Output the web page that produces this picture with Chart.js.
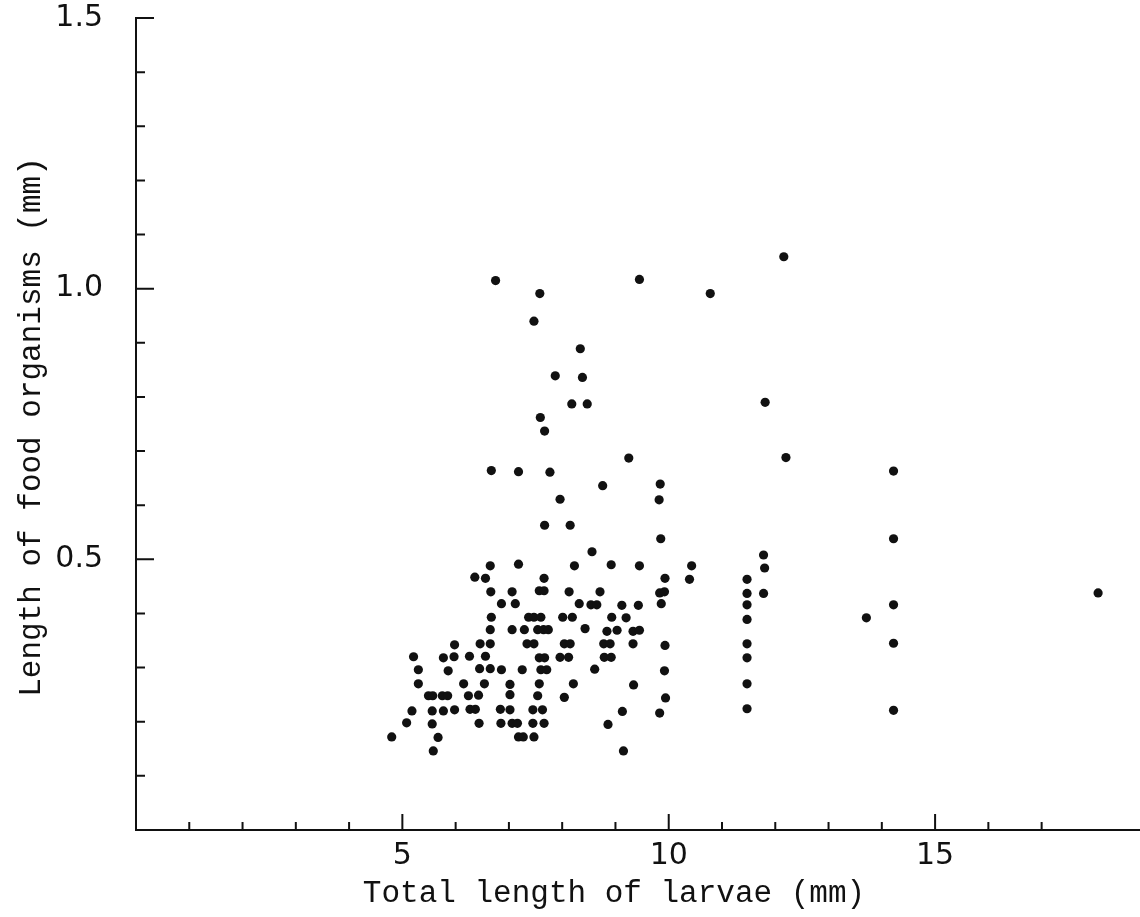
<!DOCTYPE html>
<html>
<head>
<meta charset="utf-8">
<script src="https://cdn.jsdelivr.net/npm/chart.js@4.4.1/dist/chart.umd.min.js"></script>
<style>
  html, body { margin: 0; padding: 0; background: #fff; }
  canvas { display: block; }
</style>
</head>
<body>
<canvas id="scatter" width="1140" height="917"></canvas>
<script>
// Total length of larvae (mm) for each food item
const larvaeLength = [
  // upper scatter
  6.75, 9.45, 10.78, 7.58, 7.47, 8.34, 7.87, 8.38, 8.18, 8.47, 7.59, 7.67,
  9.25, 6.67, 7.18, 7.77, 8.76, 9.84, 9.82, 7.96, 7.67, 8.15, 9.85, 8.56,
  // right-hand columns
  12.16, 11.81, 12.20, 14.22, 14.22, 11.78, 11.80, 10.43, 10.39, 11.47, 11.47, 11.78,
  11.47, 14.22, 11.47, 13.71, 18.06, 11.47, 14.22, 11.47, 11.47, 11.47, 14.22,
  // dense cluster, left part
  6.65, 7.18, 8.23,
  6.36, 6.56, 7.66,
  6.66, 7.06, 7.57, 7.66, 8.13,
  6.86, 7.12, 8.32,
  6.67, 7.37, 7.47, 7.60, 8.01, 8.19,
  6.65, 7.06, 7.29, 7.54, 7.65, 7.74,
  6.46, 6.65, 7.34, 7.47, 8.04, 8.15, 5.98,
  5.21, 5.77, 5.97, 6.26, 6.56, 7.57, 7.67, 7.96, 8.12,
  5.30, 5.86, 6.45, 6.65, 6.86, 7.25, 7.60, 7.71,
  5.30, 6.15, 6.54, 7.02, 7.57, 8.21,
  5.49, 5.57, 5.75, 5.85, 6.24, 6.43, 7.02, 7.54, 8.04,
  5.18, 5.56, 5.77, 5.98, 6.27, 6.37, 6.84, 7.02, 7.45, 7.63,
  5.08, 5.56, 6.44, 6.85, 7.06, 7.16, 7.45, 7.66,
  4.80, 5.67, 7.18, 7.27, 7.47,
  5.58,
  // dense cluster, right part
  8.92, 9.45,
  9.93,
  8.71, 9.83, 9.92,
  8.54, 8.65, 9.12, 9.43, 9.86,
  8.93, 9.20,
  8.43, 8.84, 9.03, 9.33, 9.45,
  8.78, 8.90, 9.33, 9.93,
  8.79, 8.92,
  8.61, 9.92,
  9.34,
  9.94,
  9.13, 9.83,
  8.86,
  9.15
];

// Length of food organisms (mm), same order
const foodLength = [
  1.015, 1.017, 0.991, 0.991, 0.940, 0.889, 0.839, 0.836, 0.787, 0.787, 0.762, 0.737,
  0.687, 0.664, 0.662, 0.661, 0.636, 0.639, 0.610, 0.611, 0.563, 0.563, 0.538, 0.514,
  1.059, 0.790, 0.688, 0.663, 0.538, 0.508, 0.484, 0.488, 0.463, 0.463, 0.437, 0.437,
  0.416, 0.416, 0.389, 0.392, 0.438, 0.344, 0.345, 0.318, 0.270, 0.224, 0.221,
  0.488, 0.491, 0.488,
  0.467, 0.465, 0.465,
  0.440, 0.440, 0.442, 0.442, 0.440,
  0.418, 0.418, 0.418,
  0.393, 0.393, 0.393, 0.393, 0.393, 0.393,
  0.370, 0.370, 0.370, 0.370, 0.370, 0.370,
  0.344, 0.344, 0.344, 0.344, 0.344, 0.344, 0.342,
  0.320, 0.318, 0.320, 0.321, 0.321, 0.318, 0.318, 0.319, 0.319,
  0.296, 0.294, 0.298, 0.298, 0.296, 0.296, 0.296, 0.296,
  0.270, 0.270, 0.270, 0.269, 0.270, 0.270,
  0.248, 0.248, 0.248, 0.248, 0.248, 0.249, 0.250, 0.248, 0.245,
  0.220, 0.220, 0.220, 0.222, 0.223, 0.223, 0.223, 0.222, 0.222, 0.222,
  0.198, 0.196, 0.197, 0.197, 0.197, 0.197, 0.197, 0.197,
  0.172, 0.171, 0.172, 0.172, 0.172,
  0.146,
  0.490, 0.488,
  0.465,
  0.440, 0.438, 0.440,
  0.416, 0.416, 0.415, 0.415, 0.418,
  0.393, 0.392,
  0.372, 0.367, 0.369, 0.367, 0.369,
  0.344, 0.344, 0.344, 0.341,
  0.319, 0.319,
  0.297, 0.294,
  0.268,
  0.244,
  0.219, 0.216,
  0.195,
  0.146
];

// Labelled ticks
const xLabelTicks = [5, 10, 15];
const yLabelTicks = [0.5, 1.0, 1.5];

const xTitle = 'Total length of larvae (mm)';
const yTitle = 'Length of food organisms (mm)';

const points = larvaeLength.map((x, i) => ({ x: x, y: foodLength[i] }));

// Draw the axis lines, inward tick marks and axis titles
const axesPlugin = {
  id: 'oldAxes',
  afterDraw(chart) {
    const ctx = chart.ctx;
    const area = chart.chartArea;
    const xs = chart.scales.x;
    const ys = chart.scales.y;
    ctx.save();
    ctx.strokeStyle = '#111';
    ctx.lineWidth = 2;
    ctx.lineCap = 'square';

    // axis lines (x axis runs off the right edge, as in the scan)
    ctx.beginPath();
    ctx.moveTo(area.left, area.top);
    ctx.lineTo(area.left, area.bottom);
    ctx.lineTo(chart.width, area.bottom);
    ctx.stroke();

    // x ticks, pointing up
    ctx.beginPath();
    xs.ticks.forEach(t => {
      if (!Number.isInteger(t.value) || t.value === 0) return;
      const px = xs.getPixelForValue(t.value);
      const len = xLabelTicks.includes(t.value) ? 15 : 7;
      ctx.moveTo(px, area.bottom);
      ctx.lineTo(px, area.bottom - len);
    });
    ctx.stroke();

    // y ticks, pointing right
    ctx.beginPath();
    ys.ticks.forEach(t => {
      const v = Math.round(t.value * 10) / 10;
      if (v === 0) return;
      const py = ys.getPixelForValue(v);
      const len = yLabelTicks.includes(v) ? 17 : 8;
      ctx.moveTo(area.left, py);
      ctx.lineTo(area.left + len, py);
    });
    ctx.stroke();

    // axis titles
    ctx.fillStyle = '#111';
    ctx.font = '31px "Liberation Mono", "DejaVu Sans Mono", monospace';
    ctx.textAlign = 'center';
    ctx.textBaseline = 'middle';
    ctx.fillText(xTitle, area.left + 478, area.bottom + 64);

    ctx.translate(32, (area.top + area.bottom) / 2 + 3);
    ctx.rotate(-Math.PI / 2);
    ctx.fillText(yTitle, 0, 0);
    ctx.restore();
  }
};

new Chart(document.getElementById('scatter').getContext('2d'), {
  type: 'scatter',
  data: {
    datasets: [{
      label: 'Food organisms',
      data: points,
      backgroundColor: '#111',
      borderColor: '#111',
      borderWidth: 0,
      pointRadius: 4.6,
      pointHoverRadius: 4.6,
      clip: 10
    }]
  },
  options: {
    responsive: false,
    animation: false,
    layout: { padding: { top: 18, right: 0, left: 0, bottom: 0 } },
    plugins: {
      legend: { display: false },
      tooltip: { enabled: false }
    },
    scales: {
      x: {
        type: 'linear',
        min: 0,
        max: 18.76,
        border: { display: false },
        grid: { display: false, drawTicks: false },
        afterFit: s => {
          s.height = 87;
          s.paddingLeft = 0;
          s.paddingRight = 0;
        },
        ticks: {
          stepSize: 1,
          autoSkip: false,
          maxRotation: 0,
          padding: 8,
          color: '#111',
          font: { family: '"DejaVu Sans", sans-serif', size: 30 },
          callback: v => xLabelTicks.includes(v) ? String(v) : ''
        }
      },
      y: {
        type: 'linear',
        min: 0,
        max: 1.5,
        border: { display: false },
        grid: { display: false, drawTicks: false },
        afterFit: s => {
          s.width = 136;
          s.paddingTop = 0;
          s.paddingBottom = 0;
        },
        ticks: {
          stepSize: 0.1,
          autoSkip: false,
          padding: 33,
          color: '#111',
          font: { family: '"DejaVu Sans", sans-serif', size: 30 },
          callback: v => {
            const r = Math.round(v * 10) / 10;
            return yLabelTicks.includes(r) ? r.toFixed(1) : '';
          }
        }
      }
    }
  },
  plugins: [axesPlugin]
});
</script>
</body>
</html>
